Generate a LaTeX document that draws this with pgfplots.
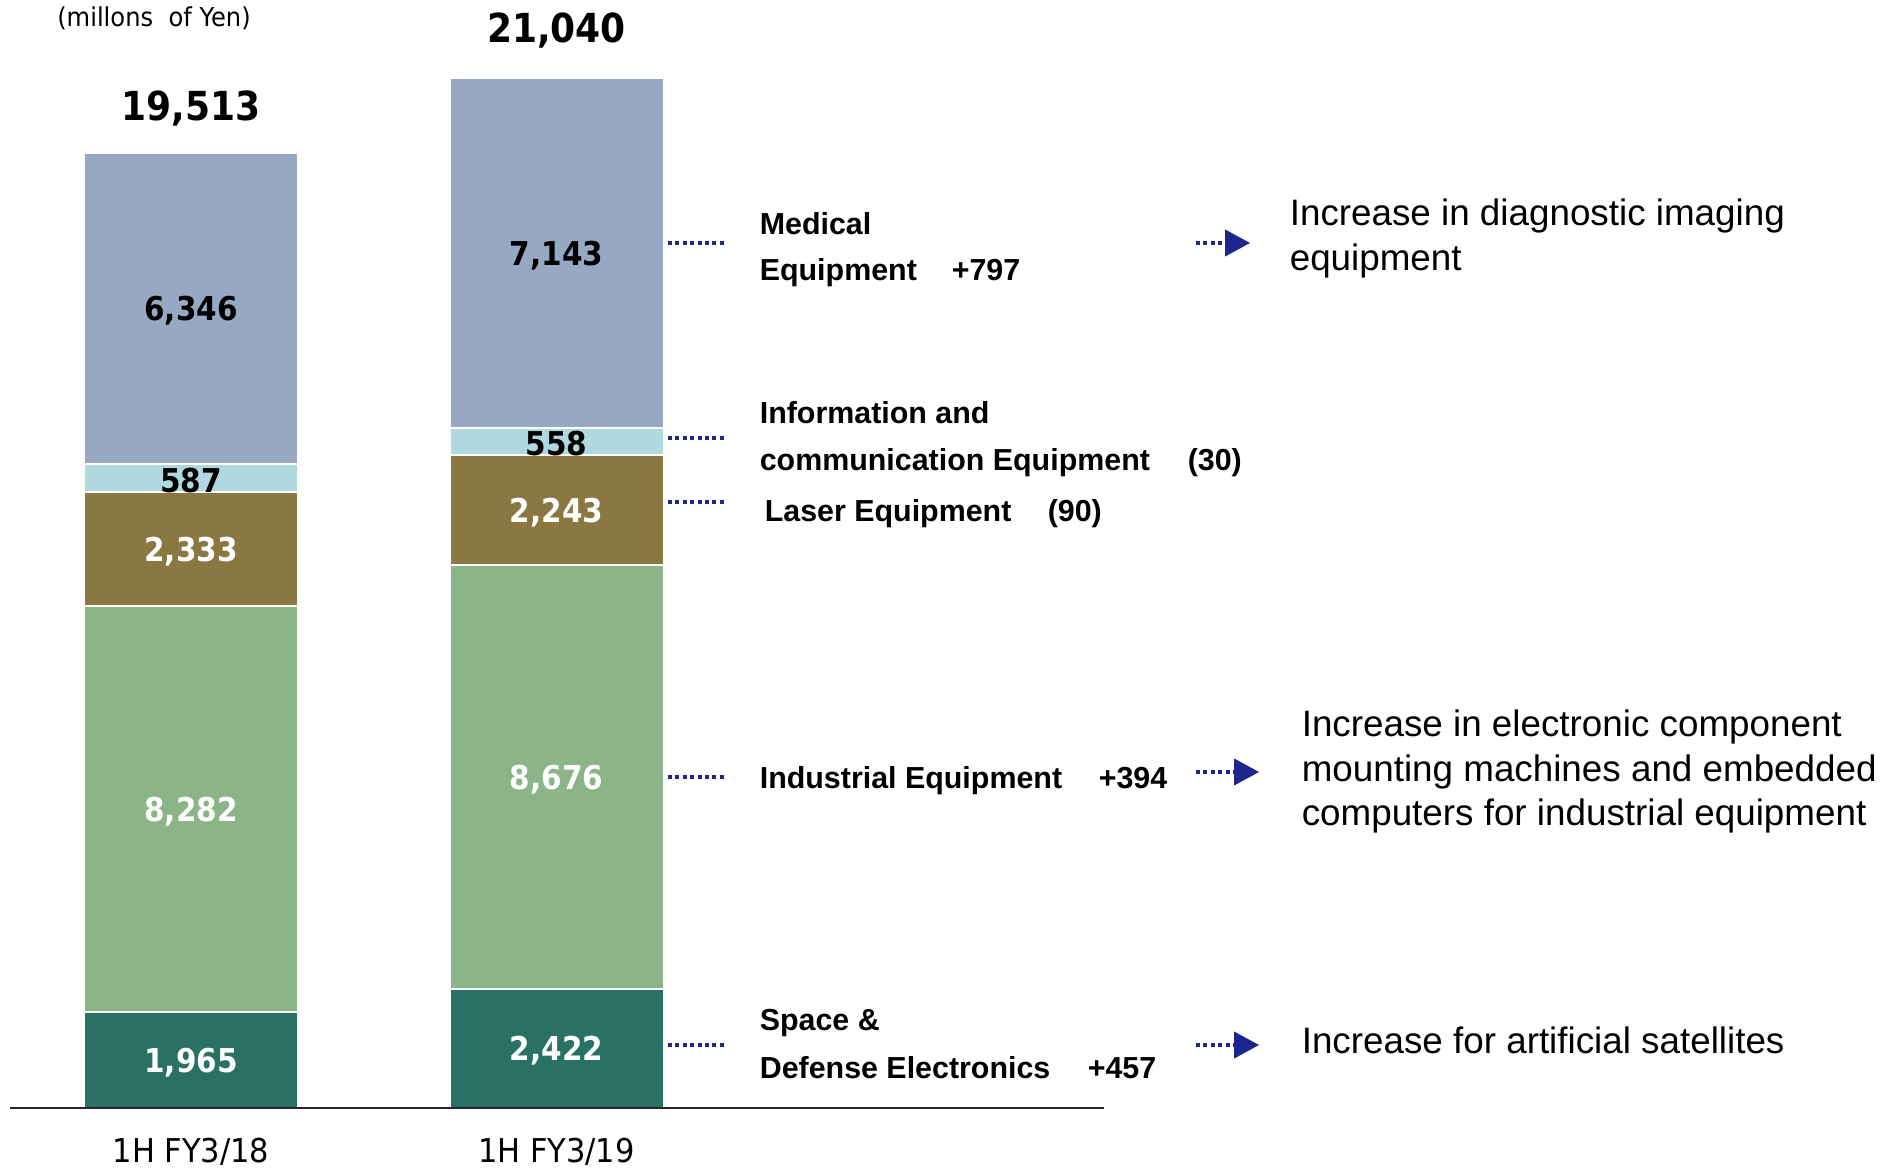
\documentclass[border=0pt]{standalone}
\usepackage{fontspec}
\usepackage{pgfplots}
\pgfplotsset{compat=1.18}
\setmainfont{Liberation Sans}
\newfontfamily\numfont[FakeStretch=0.9]{DejaVu Sans}
\newfontfamily\gfont[FakeStretch=0.93]{DejaVu Sans}
\definecolor{cMed}{RGB}{151,169,194}
\definecolor{cInfo}{RGB}{176,216,223}
\definecolor{cLaser}{RGB}{139,119,66}
\definecolor{cInd}{RGB}{139,181,137}
\definecolor{cSpace}{RGB}{40,113,100}
\definecolor{cNavy}{RGB}{28,38,140}
\tikzset{
  segnum/.style={font=\numfont\bfseries\fontsize{8.2}{9}\selectfont, anchor=center, inner sep=0pt, yshift=-0.6pt},
  totnum/.style={font=\numfont\bfseries\fontsize{10}{12}\selectfont, anchor=center, inner sep=0pt},
  catlab/.style={font=\gfont\fontsize{8.2}{9}\selectfont, anchor=center, inner sep=0pt},
  lab/.style={font=\bfseries\fontsize{7.6}{9}\selectfont, anchor=mid west, inner sep=0pt},
  desc/.style={font=\fontsize{9.2}{11}\selectfont, anchor=mid west, inner sep=0pt},
  conn/.style={cNavy, line width=0.8pt, dash pattern=on 1pt off 0.85pt},
}
\begin{document}
\begin{tikzpicture}
\begin{axis}[
  scale only axis, width=474.5pt, height=292.25pt,
  xmin=0, xmax=1898, ymin=-1246.4, ymax=22639,
  hide axis, clip=false,
  ybar stacked, bar width=214,
]
\addplot[fill=cSpace, draw=white, line width=0.5pt]  coordinates {(191,1965) (556.5,2422)};
\addplot[fill=cInd, draw=white, line width=0.5pt]    coordinates {(191,8282) (556.5,8676)};
\addplot[fill=cLaser, draw=white, line width=0.5pt]  coordinates {(191,2333) (556.5,2243)};
\addplot[fill=cInfo, draw=white, line width=0.5pt]   coordinates {(191,587)  (556.5,558)};
\addplot[fill=cMed, draw=white, line width=0.5pt]    coordinates {(191,6346) (556.5,7145)};

\path (rel axis cs:0,0) rectangle (rel axis cs:1,1);
\coordinate (b0) at (axis cs:10,0);
\coordinate (b1) at (axis cs:1104,0);

\coordinate (a1) at (axis cs:191,982.5);
\coordinate (a2) at (axis cs:191,6106);
\coordinate (a3) at (axis cs:191,11413.5);
\coordinate (a4) at (axis cs:191,12873.5);
\coordinate (a5) at (axis cs:191,16340);
\coordinate (c1) at (axis cs:556.5,1211);
\coordinate (c2) at (axis cs:556.5,6760);
\coordinate (c3) at (axis cs:556.5,12219.5);
\coordinate (c4) at (axis cs:556.5,13620);
\coordinate (c5) at (axis cs:556.5,17470);

\node[totnum] at ([yshift=11.2pt]axis cs:191,19513) {19,513};
\node[totnum] at ([yshift=12pt]axis cs:556.5,21042) {21,040};

\node[catlab, font=\gfont\fontsize{6.5}{7}\selectfont] at (rel axis cs:0.08114,0.98400) {(millons~~of Yen)};
\node[catlab] at (rel axis cs:0.10063,0.01454) {1H FY3/18};
\node[catlab] at (rel axis cs:0.29320,0.01454) {1H FY3/19};

\draw[conn] (rel axis cs:0.35195,0.79213) -- (rel axis cs:0.38251,0.79213);
\draw[conn] (rel axis cs:0.35195,0.62532) -- (rel axis cs:0.38251,0.62532);
\draw[conn] (rel axis cs:0.35195,0.57057) -- (rel axis cs:0.38251,0.57057);
\draw[conn] (rel axis cs:0.35195,0.33533) -- (rel axis cs:0.38251,0.33533);
\draw[conn] (rel axis cs:0.35195,0.10607) -- (rel axis cs:0.38251,0.10607);
\draw[conn] (rel axis cs:0.63014,0.79213) -- (rel axis cs:0.64542,0.79213);
\draw[conn] (rel axis cs:0.63014,0.33961) -- (rel axis cs:0.65016,0.33961);
\draw[conn] (rel axis cs:0.63014,0.10607) -- (rel axis cs:0.65016,0.10607);
\fill[cNavy] ([yshift=3.4pt]rel axis cs:0.64542,0.79213) -- (rel axis cs:0.65859,0.79213) -- ([yshift=-3.4pt]rel axis cs:0.64542,0.79213) -- cycle;
\fill[cNavy] ([yshift=3.4pt]rel axis cs:0.65016,0.33961) -- (rel axis cs:0.66333,0.33961) -- ([yshift=-3.4pt]rel axis cs:0.65016,0.33961) -- cycle;
\fill[cNavy] ([yshift=3.4pt]rel axis cs:0.65016,0.10607) -- (rel axis cs:0.66333,0.10607) -- ([yshift=-3.4pt]rel axis cs:0.65016,0.10607) -- cycle;

\node[lab] at (rel axis cs:0.39990,0.80838) {Medical};
\node[lab] at (rel axis cs:0.39990,0.76903) {Equipment};
\node[lab] at (rel axis cs:0.50105,0.76903) {+797};
\node[lab] at (rel axis cs:0.39990,0.64671) {Information and};
\node[lab] at (rel axis cs:0.39990,0.60650) {communication Equipment};
\node[lab] at (rel axis cs:0.62540,0.60650) {(30)};
\node[lab] at (rel axis cs:0.40253,0.56287) {Laser Equipment};
\node[lab] at (rel axis cs:0.55163,0.56287) {(90)};
\node[lab] at (rel axis cs:0.39990,0.33447) {Industrial Equipment};
\node[lab] at (rel axis cs:0.57851,0.33447) {+394};
\node[lab] at (rel axis cs:0.39990,0.12746) {Space \&};
\node[lab] at (rel axis cs:0.39990,0.08640) {Defense Electronics};
\node[lab] at (rel axis cs:0.57271,0.08640) {+457};

\node[desc] at (rel axis cs:0.67914,0.81608) {Increase in diagnostic imaging};
\node[desc] at (rel axis cs:0.67914,0.77759) {equipment};
\node[desc] at (rel axis cs:0.68546,0.37896) {Increase in electronic component};
\node[desc] at (rel axis cs:0.68546,0.34046) {mounting machines and embedded};
\node[desc] at (rel axis cs:0.68546,0.30282) {computers for industrial equipment};
\node[desc] at (rel axis cs:0.68546,0.10778) {Increase for artificial satellites};
\end{axis}
% drawn on top of the bars
\draw[black!85, line width=0.6pt] (b0) -- (b1);
\node[segnum, white] at (a1) {1,965};
\node[segnum, white] at (a2) {8,282};
\node[segnum, white] at (a3) {2,333};
\node[segnum] at (a4) {587};
\node[segnum] at (a5) {6,346};
\node[segnum, white] at (c1) {2,422};
\node[segnum, white] at (c2) {8,676};
\node[segnum, white] at (c3) {2,243};
\node[segnum] at (c4) {558};
\node[segnum] at (c5) {7,143};
\end{tikzpicture}
\end{document}
